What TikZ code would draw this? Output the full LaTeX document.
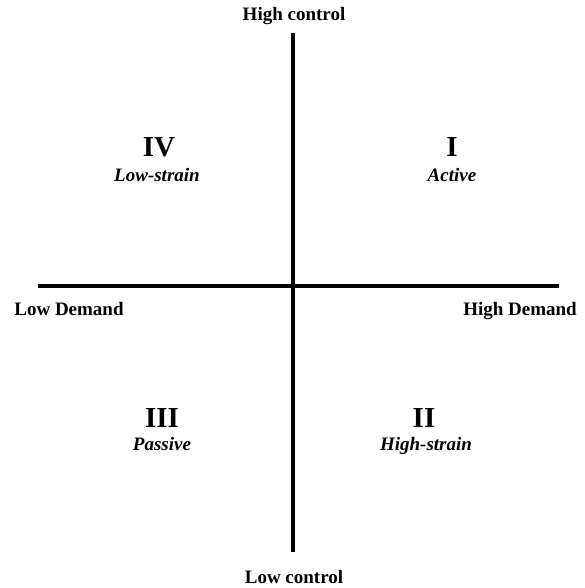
\documentclass[tikz,border=0pt]{standalone}
\usepackage{fontspec}
\setmainfont{Liberation Serif}
\begin{document}
\begin{tikzpicture}[x=1pt,y=-1pt,
  axis/.style={line width=3.6pt},
  lbl/.style={anchor=base,inner sep=0pt,font=\fontsize{19}{22}\selectfont\bfseries},
  num/.style={anchor=base,inner sep=0pt,font=\fontsize{29}{32}\selectfont\bfseries},
  sub/.style={anchor=base,inner sep=0pt,font=\fontsize{19}{22}\selectfont\bfseries\itshape}]
\useasboundingbox (0,0) rectangle (584,588);
\coordinate (top) at (293,33);
\coordinate (bot) at (293,552);
\coordinate (left) at (38,286);
\coordinate (right) at (559,286);
\draw[axis] (top) -- (bot);
\draw[axis] (left) -- (right);
\node[lbl] (hc) at (294,21) {High control};
\node[lbl] (lc) at (294,583) {Low control};
\node[lbl] (ld) at (69,315) {Low Demand};
\node[lbl] (hd) at (520,315) {High Demand};
\node[num] (q4) at (159,157) {IV};
\node[sub] (q4s) at (157,182) {Low-strain};
\node[num] (q1) at (452,157) {I};
\node[sub] (q1s) at (452,182) {Active};
\node[num] (q3) at (162,427) {III};
\node[sub] (q3s) at (162,450) {Passive};
\node[num] (q2) at (424,427) {II};
\node[sub] (q2s) at (426,450) {High-strain};
\end{tikzpicture}
\end{document}
